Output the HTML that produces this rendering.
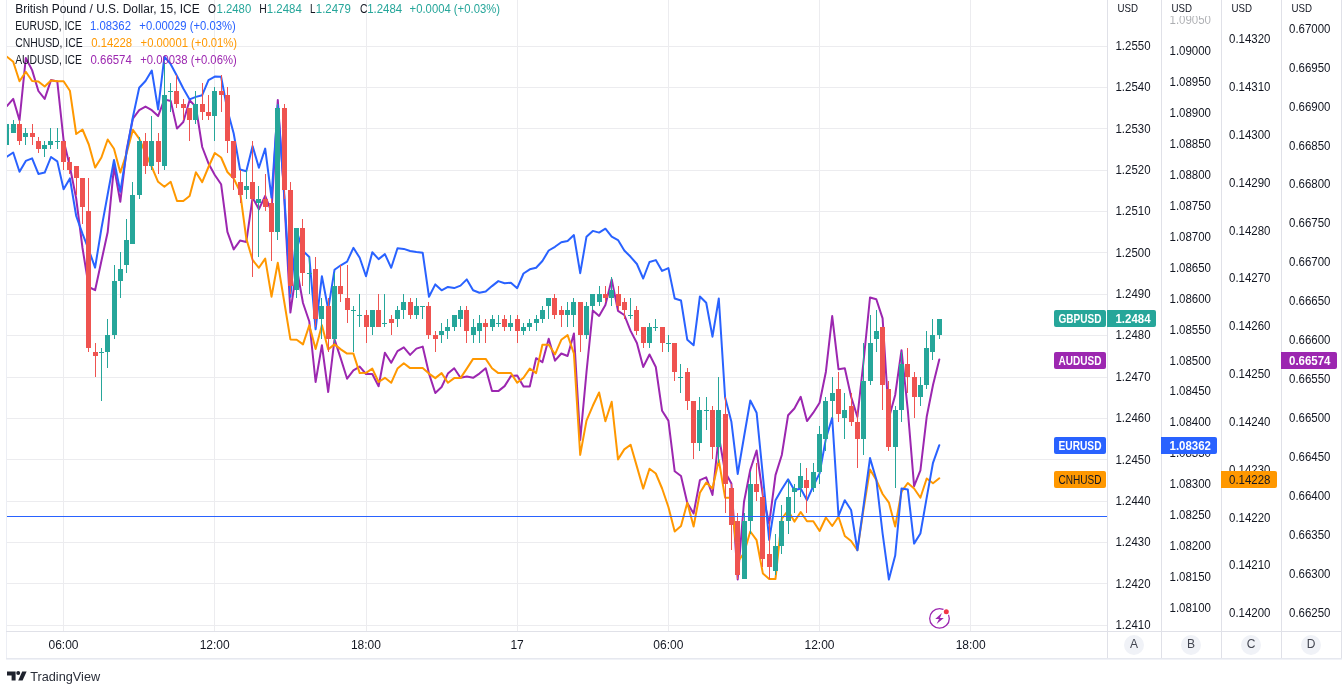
<!DOCTYPE html><html><head><meta charset="utf-8"><title>GBPUSD chart</title><style>html,body{margin:0;padding:0;background:#fff;}body{width:1342px;height:688px;overflow:hidden;font-family:"Liberation Sans",sans-serif;}</style></head><body><div style="will-change:transform;width:1342px;height:688px"><svg width="1342" height="688" viewBox="0 0 1342 688" style="display:block">
<g stroke="#ececef" stroke-width="1" shape-rendering="crispEdges">
<line x1="7" y1="46.5" x2="1107" y2="46.5"/>
<line x1="7" y1="87.5" x2="1107" y2="87.5"/>
<line x1="7" y1="128.5" x2="1107" y2="128.5"/>
<line x1="7" y1="170.5" x2="1107" y2="170.5"/>
<line x1="7" y1="211.5" x2="1107" y2="211.5"/>
<line x1="7" y1="252.5" x2="1107" y2="252.5"/>
<line x1="7" y1="294.5" x2="1107" y2="294.5"/>
<line x1="7" y1="335.5" x2="1107" y2="335.5"/>
<line x1="7" y1="377.5" x2="1107" y2="377.5"/>
<line x1="7" y1="418.5" x2="1107" y2="418.5"/>
<line x1="7" y1="459.5" x2="1107" y2="459.5"/>
<line x1="7" y1="501.5" x2="1107" y2="501.5"/>
<line x1="7" y1="542.5" x2="1107" y2="542.5"/>
<line x1="7" y1="583.5" x2="1107" y2="583.5"/>
<line x1="7" y1="625.5" x2="1107" y2="625.5"/>
<line x1="63.5" y1="0" x2="63.5" y2="631"/>
<line x1="214.5" y1="0" x2="214.5" y2="631"/>
<line x1="366.5" y1="0" x2="366.5" y2="631"/>
<line x1="517.5" y1="0" x2="517.5" y2="631"/>
<line x1="668.5" y1="0" x2="668.5" y2="631"/>
<line x1="819.5" y1="0" x2="819.5" y2="631"/>
<line x1="970.5" y1="0" x2="970.5" y2="631"/>
</g>
<clipPath id="cp"><rect x="7" y="0" width="1100" height="631"/></clipPath>
<g clip-path="url(#cp)">
<polyline points="6.9,106.0 13.2,98.9 19.5,120.3 25.8,58.0 32.1,70.1 38.4,91.0 44.7,98.9 51.0,80.1 57.3,81.5 63.6,140.3 69.9,166.7 76.2,198.5 82.5,248.0 88.8,287.0 95.1,290.2 101.4,261.0 107.7,232.0 114.0,166.7 120.3,201.8 126.6,150.0 132.9,118.6 139.2,110.2 145.5,106.6 151.8,110.2 158.1,116.1 164.4,99.4 170.7,101.0 177.0,128.6 183.3,122.0 189.6,100.2 195.9,106.9 202.2,147.0 208.5,163.4 214.8,175.0 221.1,184.2 227.4,231.9 233.7,249.4 240.0,240.6 246.3,241.9 252.6,197.6 258.9,209.3 265.2,195.9 271.5,212.0 277.8,100.1 284.1,195.0 290.4,312.6 296.7,268.0 303.0,303.0 309.3,321.5 315.6,382.0 321.9,345.2 328.2,392.0 334.5,339.4 340.8,358.6 347.1,378.7 353.4,370.3 359.7,366.6 366.0,374.0 372.3,374.0 378.6,386.2 384.9,352.7 391.2,362.8 397.5,351.1 403.8,347.4 410.1,354.9 416.4,348.6 422.7,346.6 429.0,373.6 435.3,393.0 441.6,387.0 447.9,373.6 454.2,368.2 460.5,377.8 466.8,376.4 473.1,377.8 479.4,373.6 485.7,368.2 492.0,391.1 498.3,391.1 504.6,386.1 510.9,376.1 517.2,375.6 523.5,386.5 529.8,386.5 536.1,358.2 542.4,362.2 548.7,338.8 555.0,360.7 561.3,353.5 567.6,356.0 573.9,333.4 580.2,440.0 586.5,372.0 592.8,310.4 599.1,315.9 605.4,305.0 611.7,279.4 618.0,310.9 624.3,315.0 630.6,330.9 636.9,343.0 643.2,367.0 649.5,354.5 655.8,367.0 662.1,410.8 668.4,420.6 674.7,471.3 681.0,476.0 687.3,503.0 693.6,513.5 699.9,480.2 706.2,477.4 712.5,495.0 718.8,436.0 725.1,472.0 731.4,483.5 737.7,579.4 744.0,502.0 750.3,469.8 756.6,450.5 762.9,496.0 769.2,523.6 775.5,475.1 781.8,455.0 788.1,415.2 794.4,408.5 800.7,396.8 807.0,421.1 813.3,412.7 819.6,402.7 825.9,371.7 832.2,316.1 838.5,369.2 844.8,368.3 851.1,396.8 857.4,416.9 863.7,360.0 870.0,297.5 876.3,299.2 882.6,318.4 888.9,418.0 895.2,395.0 901.5,350.2 907.8,410.0 914.1,486.2 920.4,470.3 926.7,416.8 933.0,385.0 939.3,359.4" fill="none" stroke="#9c27b0" stroke-width="2" stroke-linejoin="round" stroke-linecap="round"/>
<polyline points="6.9,56.7 13.2,61.7 19.5,81.3 25.8,71.8 32.1,81.0 38.4,81.5 44.7,86.5 51.0,80.6 57.3,81.3 63.6,81.3 69.9,90.7 76.2,134.0 82.5,129.5 88.8,144.5 95.1,167.6 101.4,157.5 107.7,139.5 114.0,148.7 120.3,172.6 126.6,153.3 132.9,129.8 139.2,138.7 145.5,153.0 151.8,167.0 158.1,181.8 164.4,186.8 170.7,181.8 177.0,201.0 183.3,201.0 189.6,196.0 195.9,172.2 202.2,182.1 208.5,167.0 214.8,153.0 221.1,157.5 227.4,172.0 233.7,178.5 240.0,191.5 246.3,238.6 252.6,260.0 258.9,267.8 265.2,258.6 271.5,296.7 277.8,262.8 284.1,301.0 290.4,339.4 296.7,339.7 303.0,344.4 309.3,325.2 315.6,349.1 321.9,325.2 328.2,349.4 334.5,344.4 340.8,349.4 347.1,353.6 353.4,353.6 359.7,373.1 366.0,372.8 372.3,368.6 378.6,382.0 384.9,377.8 391.2,382.8 397.5,368.6 403.8,363.3 410.1,368.1 416.4,368.1 422.7,368.1 429.0,373.6 435.3,378.1 441.6,373.1 447.9,382.8 454.2,378.1 460.5,378.1 466.8,368.6 473.1,358.9 479.4,358.9 485.7,358.9 492.0,368.2 498.3,373.1 504.6,373.1 510.9,373.1 517.2,382.8 523.5,377.8 529.8,368.6 536.1,373.1 542.4,344.8 548.7,344.8 555.0,354.3 561.3,339.8 567.6,335.1 573.9,353.5 580.2,454.9 586.5,420.6 592.8,405.8 599.1,392.5 605.4,421.2 611.7,401.8 618.0,459.4 624.3,449.4 630.6,444.7 636.9,466.6 643.2,488.6 649.5,468.7 655.8,473.5 662.1,488.5 668.4,507.0 674.7,531.5 681.0,526.1 687.3,502.7 693.6,526.5 699.9,492.7 706.2,482.6 712.5,488.5 718.8,460.1 725.1,497.7 731.4,497.7 737.7,562.0 744.0,553.0 750.3,531.5 756.6,540.2 762.9,573.6 769.2,578.9 775.5,578.9 781.8,518.6 788.1,510.5 794.4,521.6 800.7,512.0 807.0,521.3 813.3,521.3 819.6,531.0 825.9,517.5 832.2,526.0 838.5,516.8 844.8,536.0 851.1,541.0 857.4,550.2 863.7,508.0 870.0,469.4 876.3,480.0 882.6,494.0 888.9,502.6 895.2,526.5 901.5,491.7 907.8,483.0 914.1,488.5 920.4,497.7 926.7,478.5 933.0,483.2 939.3,478.3" fill="none" stroke="#ff9800" stroke-width="2" stroke-linejoin="round" stroke-linecap="round"/>
<polyline points="6.9,156.7 13.2,152.5 19.5,171.7 25.8,160.9 32.1,158.4 38.4,173.9 44.7,172.6 51.0,157.0 57.3,161.4 63.6,189.3 69.9,178.4 76.2,216.0 82.5,233.6 88.8,250.0 95.1,267.6 101.4,228.6 107.7,194.3 114.0,160.0 120.3,191.8 126.6,152.0 132.9,117.0 139.2,87.7 145.5,81.0 151.8,70.6 158.1,109.4 164.4,56.7 170.7,64.2 177.0,76.0 183.3,88.5 189.6,99.4 195.9,96.9 202.2,95.2 208.5,80.1 214.8,76.6 221.1,76.7 227.4,110.0 233.7,133.5 240.0,169.5 246.3,171.2 252.6,146.1 258.9,167.8 265.2,148.6 271.5,197.6 277.8,105.0 284.1,191.7 290.4,296.7 296.7,231.0 303.0,251.0 309.3,257.0 315.6,329.3 321.9,276.2 328.2,309.3 334.5,269.8 340.8,265.3 347.1,261.6 353.4,247.8 359.7,257.8 366.0,276.2 372.3,252.3 378.6,259.1 384.9,254.1 391.2,267.8 397.5,248.3 403.8,248.9 410.1,251.0 416.4,252.0 422.7,252.8 429.0,296.8 435.3,284.4 441.6,290.3 447.9,286.9 454.2,288.1 460.5,285.6 466.8,279.4 473.1,290.3 479.4,292.8 485.7,291.6 492.0,286.1 498.3,281.1 504.6,283.2 510.9,282.7 517.2,288.2 523.5,273.5 529.8,269.3 536.1,267.7 542.4,261.0 548.7,250.5 555.0,246.8 561.3,242.3 567.6,240.9 573.9,235.1 580.2,273.2 586.5,236.7 592.8,230.9 599.1,232.6 605.4,228.7 611.7,236.7 618.0,240.1 624.3,250.5 630.6,256.8 636.9,264.0 643.2,278.5 649.5,262.0 655.8,260.1 662.1,270.9 668.4,268.1 674.7,298.5 681.0,300.5 687.3,339.8 693.6,345.3 699.9,296.5 706.2,302.7 712.5,336.7 718.8,298.5 725.1,397.5 731.4,421.8 737.7,474.0 744.0,437.0 750.3,400.5 756.6,412.7 762.9,476.0 769.2,540.0 775.5,500.2 781.8,489.3 788.1,479.3 794.4,490.2 800.7,488.5 807.0,500.2 813.3,486.0 819.6,473.4 825.9,438.6 832.2,417.7 838.5,516.0 844.8,500.2 851.1,510.0 857.4,550.3 863.7,505.0 870.0,458.1 876.3,479.5 882.6,533.5 888.9,579.5 895.2,555.6 901.5,488.5 907.8,489.6 914.1,543.6 920.4,533.5 926.7,497.6 933.0,462.8 939.3,445.2" fill="none" stroke="#2962ff" stroke-width="2" stroke-linejoin="round" stroke-linecap="round"/>
<rect x="6" y="124" width="1" height="21" fill="#26a69a"/>
<rect x="4" y="124" width="5" height="21" fill="#26a69a"/>
<rect x="13" y="120" width="1" height="13" fill="#26a69a"/>
<rect x="11" y="124" width="5" height="9" fill="#26a69a"/>
<rect x="19" y="120" width="1" height="25" fill="#ef5350"/>
<rect x="17" y="124" width="5" height="17" fill="#ef5350"/>
<rect x="25" y="128" width="1" height="17" fill="#26a69a"/>
<rect x="23" y="133" width="5" height="4" fill="#26a69a"/>
<rect x="32" y="124" width="1" height="21" fill="#ef5350"/>
<rect x="30" y="133" width="5" height="4" fill="#ef5350"/>
<rect x="38" y="137" width="1" height="16" fill="#ef5350"/>
<rect x="36" y="141" width="5" height="8" fill="#ef5350"/>
<rect x="44" y="141" width="1" height="16" fill="#26a69a"/>
<rect x="42" y="145" width="5" height="4" fill="#26a69a"/>
<rect x="50" y="128" width="1" height="21" fill="#26a69a"/>
<rect x="48" y="141" width="5" height="4" fill="#26a69a"/>
<rect x="57" y="128" width="1" height="21" fill="#26a69a"/>
<rect x="55" y="141" width="5" height="1" fill="#26a69a"/>
<rect x="63" y="141" width="1" height="29" fill="#ef5350"/>
<rect x="61" y="141" width="5" height="21" fill="#ef5350"/>
<rect x="69" y="157" width="1" height="17" fill="#ef5350"/>
<rect x="67" y="162" width="5" height="8" fill="#ef5350"/>
<rect x="76" y="166" width="1" height="29" fill="#ef5350"/>
<rect x="74" y="166" width="5" height="12" fill="#ef5350"/>
<rect x="82" y="178" width="1" height="46" fill="#ef5350"/>
<rect x="80" y="178" width="5" height="29" fill="#ef5350"/>
<rect x="88" y="178" width="1" height="174" fill="#ef5350"/>
<rect x="86" y="211" width="5" height="137" fill="#ef5350"/>
<rect x="95" y="343" width="1" height="34" fill="#ef5350"/>
<rect x="93" y="352" width="5" height="4" fill="#ef5350"/>
<rect x="101" y="348" width="1" height="53" fill="#26a69a"/>
<rect x="99" y="352" width="5" height="1" fill="#26a69a"/>
<rect x="107" y="319" width="1" height="49" fill="#26a69a"/>
<rect x="105" y="335" width="5" height="17" fill="#26a69a"/>
<rect x="114" y="265" width="1" height="74" fill="#26a69a"/>
<rect x="112" y="281" width="5" height="54" fill="#26a69a"/>
<rect x="120" y="252" width="1" height="46" fill="#26a69a"/>
<rect x="118" y="269" width="5" height="12" fill="#26a69a"/>
<rect x="126" y="219" width="1" height="54" fill="#26a69a"/>
<rect x="124" y="240" width="5" height="25" fill="#26a69a"/>
<rect x="132" y="182" width="1" height="62" fill="#26a69a"/>
<rect x="130" y="195" width="5" height="49" fill="#26a69a"/>
<rect x="139" y="137" width="1" height="62" fill="#26a69a"/>
<rect x="137" y="141" width="5" height="54" fill="#26a69a"/>
<rect x="145" y="133" width="1" height="41" fill="#ef5350"/>
<rect x="143" y="141" width="5" height="25" fill="#ef5350"/>
<rect x="151" y="116" width="1" height="54" fill="#26a69a"/>
<rect x="149" y="141" width="5" height="25" fill="#26a69a"/>
<rect x="158" y="133" width="1" height="41" fill="#ef5350"/>
<rect x="156" y="141" width="5" height="21" fill="#ef5350"/>
<rect x="164" y="62" width="1" height="108" fill="#26a69a"/>
<rect x="162" y="95" width="5" height="71" fill="#26a69a"/>
<rect x="170" y="83" width="1" height="29" fill="#26a69a"/>
<rect x="168" y="91" width="5" height="1" fill="#26a69a"/>
<rect x="176" y="75" width="1" height="33" fill="#ef5350"/>
<rect x="174" y="91" width="5" height="13" fill="#ef5350"/>
<rect x="183" y="99" width="1" height="21" fill="#ef5350"/>
<rect x="181" y="104" width="5" height="4" fill="#ef5350"/>
<rect x="189" y="108" width="1" height="33" fill="#ef5350"/>
<rect x="187" y="108" width="5" height="12" fill="#ef5350"/>
<rect x="195" y="91" width="1" height="33" fill="#26a69a"/>
<rect x="193" y="104" width="5" height="16" fill="#26a69a"/>
<rect x="202" y="83" width="1" height="37" fill="#ef5350"/>
<rect x="200" y="104" width="5" height="8" fill="#ef5350"/>
<rect x="208" y="95" width="1" height="25" fill="#ef5350"/>
<rect x="206" y="112" width="5" height="4" fill="#ef5350"/>
<rect x="214" y="87" width="1" height="54" fill="#26a69a"/>
<rect x="212" y="91" width="5" height="25" fill="#26a69a"/>
<rect x="221" y="75" width="1" height="37" fill="#ef5350"/>
<rect x="219" y="91" width="5" height="4" fill="#ef5350"/>
<rect x="227" y="87" width="1" height="66" fill="#ef5350"/>
<rect x="225" y="95" width="5" height="46" fill="#ef5350"/>
<rect x="233" y="141" width="1" height="49" fill="#ef5350"/>
<rect x="231" y="141" width="5" height="37" fill="#ef5350"/>
<rect x="240" y="170" width="1" height="33" fill="#ef5350"/>
<rect x="238" y="182" width="5" height="13" fill="#ef5350"/>
<rect x="246" y="170" width="1" height="29" fill="#26a69a"/>
<rect x="244" y="186" width="5" height="4" fill="#26a69a"/>
<rect x="252" y="141" width="1" height="136" fill="#ef5350"/>
<rect x="250" y="182" width="5" height="17" fill="#ef5350"/>
<rect x="258" y="186" width="1" height="71" fill="#26a69a"/>
<rect x="256" y="199" width="5" height="4" fill="#26a69a"/>
<rect x="265" y="174" width="1" height="37" fill="#ef5350"/>
<rect x="263" y="199" width="5" height="8" fill="#ef5350"/>
<rect x="271" y="199" width="1" height="62" fill="#ef5350"/>
<rect x="269" y="203" width="5" height="29" fill="#ef5350"/>
<rect x="277" y="104" width="1" height="136" fill="#26a69a"/>
<rect x="275" y="108" width="5" height="124" fill="#26a69a"/>
<rect x="284" y="104" width="1" height="95" fill="#ef5350"/>
<rect x="282" y="108" width="5" height="82" fill="#ef5350"/>
<rect x="290" y="182" width="1" height="112" fill="#ef5350"/>
<rect x="288" y="190" width="5" height="96" fill="#ef5350"/>
<rect x="296" y="228" width="1" height="70" fill="#26a69a"/>
<rect x="294" y="228" width="5" height="62" fill="#26a69a"/>
<rect x="302" y="219" width="1" height="67" fill="#ef5350"/>
<rect x="300" y="228" width="5" height="45" fill="#ef5350"/>
<rect x="309" y="257" width="1" height="37" fill="#26a69a"/>
<rect x="307" y="273" width="5" height="1" fill="#26a69a"/>
<rect x="315" y="257" width="1" height="70" fill="#ef5350"/>
<rect x="313" y="269" width="5" height="50" fill="#ef5350"/>
<rect x="321" y="298" width="1" height="41" fill="#26a69a"/>
<rect x="319" y="306" width="5" height="13" fill="#26a69a"/>
<rect x="328" y="298" width="1" height="54" fill="#ef5350"/>
<rect x="326" y="306" width="5" height="33" fill="#ef5350"/>
<rect x="334" y="273" width="1" height="70" fill="#26a69a"/>
<rect x="332" y="286" width="5" height="53" fill="#26a69a"/>
<rect x="340" y="265" width="1" height="37" fill="#ef5350"/>
<rect x="338" y="286" width="5" height="8" fill="#ef5350"/>
<rect x="347" y="265" width="1" height="58" fill="#ef5350"/>
<rect x="345" y="298" width="5" height="12" fill="#ef5350"/>
<rect x="353" y="306" width="1" height="46" fill="#26a69a"/>
<rect x="351" y="310" width="5" height="1" fill="#26a69a"/>
<rect x="359" y="294" width="1" height="33" fill="#26a69a"/>
<rect x="357" y="315" width="5" height="1" fill="#26a69a"/>
<rect x="366" y="310" width="1" height="33" fill="#ef5350"/>
<rect x="364" y="315" width="5" height="12" fill="#ef5350"/>
<rect x="372" y="310" width="1" height="25" fill="#26a69a"/>
<rect x="370" y="310" width="5" height="17" fill="#26a69a"/>
<rect x="378" y="294" width="1" height="33" fill="#ef5350"/>
<rect x="376" y="310" width="5" height="17" fill="#ef5350"/>
<rect x="384" y="294" width="1" height="33" fill="#26a69a"/>
<rect x="382" y="323" width="5" height="1" fill="#26a69a"/>
<rect x="391" y="315" width="1" height="20" fill="#ef5350"/>
<rect x="389" y="319" width="5" height="4" fill="#ef5350"/>
<rect x="397" y="306" width="1" height="21" fill="#26a69a"/>
<rect x="395" y="310" width="5" height="9" fill="#26a69a"/>
<rect x="403" y="294" width="1" height="25" fill="#26a69a"/>
<rect x="401" y="302" width="5" height="8" fill="#26a69a"/>
<rect x="410" y="298" width="1" height="21" fill="#ef5350"/>
<rect x="408" y="302" width="5" height="13" fill="#ef5350"/>
<rect x="416" y="298" width="1" height="21" fill="#26a69a"/>
<rect x="414" y="306" width="5" height="9" fill="#26a69a"/>
<rect x="422" y="306" width="1" height="13" fill="#26a69a"/>
<rect x="420" y="306" width="5" height="1" fill="#26a69a"/>
<rect x="428" y="302" width="1" height="37" fill="#ef5350"/>
<rect x="426" y="306" width="5" height="29" fill="#ef5350"/>
<rect x="435" y="331" width="1" height="21" fill="#ef5350"/>
<rect x="433" y="335" width="5" height="4" fill="#ef5350"/>
<rect x="441" y="323" width="1" height="20" fill="#26a69a"/>
<rect x="439" y="331" width="5" height="4" fill="#26a69a"/>
<rect x="447" y="319" width="1" height="20" fill="#26a69a"/>
<rect x="445" y="327" width="5" height="4" fill="#26a69a"/>
<rect x="454" y="315" width="1" height="16" fill="#26a69a"/>
<rect x="452" y="315" width="5" height="12" fill="#26a69a"/>
<rect x="460" y="306" width="1" height="21" fill="#26a69a"/>
<rect x="458" y="310" width="5" height="9" fill="#26a69a"/>
<rect x="466" y="306" width="1" height="37" fill="#ef5350"/>
<rect x="464" y="310" width="5" height="21" fill="#ef5350"/>
<rect x="473" y="319" width="1" height="24" fill="#26a69a"/>
<rect x="471" y="327" width="5" height="8" fill="#26a69a"/>
<rect x="479" y="315" width="1" height="28" fill="#26a69a"/>
<rect x="477" y="323" width="5" height="8" fill="#26a69a"/>
<rect x="485" y="319" width="1" height="24" fill="#ef5350"/>
<rect x="483" y="323" width="5" height="4" fill="#ef5350"/>
<rect x="492" y="315" width="1" height="16" fill="#26a69a"/>
<rect x="490" y="319" width="5" height="8" fill="#26a69a"/>
<rect x="498" y="315" width="1" height="12" fill="#26a69a"/>
<rect x="496" y="323" width="5" height="1" fill="#26a69a"/>
<rect x="504" y="315" width="1" height="16" fill="#ef5350"/>
<rect x="502" y="319" width="5" height="8" fill="#ef5350"/>
<rect x="510" y="315" width="1" height="16" fill="#26a69a"/>
<rect x="508" y="323" width="5" height="4" fill="#26a69a"/>
<rect x="517" y="315" width="1" height="28" fill="#ef5350"/>
<rect x="515" y="319" width="5" height="12" fill="#ef5350"/>
<rect x="523" y="323" width="1" height="12" fill="#26a69a"/>
<rect x="521" y="327" width="5" height="4" fill="#26a69a"/>
<rect x="529" y="319" width="1" height="12" fill="#26a69a"/>
<rect x="527" y="323" width="5" height="4" fill="#26a69a"/>
<rect x="536" y="315" width="1" height="16" fill="#26a69a"/>
<rect x="534" y="319" width="5" height="4" fill="#26a69a"/>
<rect x="542" y="306" width="1" height="17" fill="#26a69a"/>
<rect x="540" y="310" width="5" height="9" fill="#26a69a"/>
<rect x="548" y="298" width="1" height="21" fill="#26a69a"/>
<rect x="546" y="298" width="5" height="8" fill="#26a69a"/>
<rect x="554" y="294" width="1" height="25" fill="#ef5350"/>
<rect x="552" y="298" width="5" height="17" fill="#ef5350"/>
<rect x="561" y="306" width="1" height="21" fill="#ef5350"/>
<rect x="559" y="310" width="5" height="5" fill="#ef5350"/>
<rect x="567" y="302" width="1" height="25" fill="#26a69a"/>
<rect x="565" y="310" width="5" height="5" fill="#26a69a"/>
<rect x="573" y="298" width="1" height="29" fill="#26a69a"/>
<rect x="571" y="302" width="5" height="13" fill="#26a69a"/>
<rect x="580" y="302" width="1" height="50" fill="#ef5350"/>
<rect x="578" y="302" width="5" height="33" fill="#ef5350"/>
<rect x="586" y="302" width="1" height="37" fill="#26a69a"/>
<rect x="584" y="306" width="5" height="29" fill="#26a69a"/>
<rect x="592" y="294" width="1" height="16" fill="#26a69a"/>
<rect x="590" y="294" width="5" height="12" fill="#26a69a"/>
<rect x="599" y="286" width="1" height="20" fill="#26a69a"/>
<rect x="597" y="294" width="5" height="8" fill="#26a69a"/>
<rect x="605" y="286" width="1" height="16" fill="#ef5350"/>
<rect x="603" y="294" width="5" height="4" fill="#ef5350"/>
<rect x="611" y="277" width="1" height="29" fill="#26a69a"/>
<rect x="609" y="290" width="5" height="8" fill="#26a69a"/>
<rect x="618" y="286" width="1" height="24" fill="#ef5350"/>
<rect x="616" y="294" width="5" height="12" fill="#ef5350"/>
<rect x="624" y="298" width="1" height="21" fill="#ef5350"/>
<rect x="622" y="302" width="5" height="8" fill="#ef5350"/>
<rect x="630" y="298" width="1" height="21" fill="#26a69a"/>
<rect x="628" y="315" width="5" height="1" fill="#26a69a"/>
<rect x="636" y="306" width="1" height="29" fill="#ef5350"/>
<rect x="634" y="310" width="5" height="21" fill="#ef5350"/>
<rect x="643" y="327" width="1" height="21" fill="#ef5350"/>
<rect x="641" y="327" width="5" height="16" fill="#ef5350"/>
<rect x="649" y="323" width="1" height="25" fill="#26a69a"/>
<rect x="647" y="327" width="5" height="16" fill="#26a69a"/>
<rect x="655" y="319" width="1" height="12" fill="#26a69a"/>
<rect x="653" y="327" width="5" height="1" fill="#26a69a"/>
<rect x="662" y="327" width="1" height="25" fill="#ef5350"/>
<rect x="660" y="327" width="5" height="16" fill="#ef5350"/>
<rect x="668" y="335" width="1" height="17" fill="#26a69a"/>
<rect x="666" y="343" width="5" height="1" fill="#26a69a"/>
<rect x="674" y="343" width="1" height="38" fill="#ef5350"/>
<rect x="672" y="343" width="5" height="29" fill="#ef5350"/>
<rect x="680" y="364" width="1" height="29" fill="#26a69a"/>
<rect x="678" y="377" width="5" height="1" fill="#26a69a"/>
<rect x="687" y="368" width="1" height="42" fill="#ef5350"/>
<rect x="685" y="372" width="5" height="29" fill="#ef5350"/>
<rect x="693" y="401" width="1" height="58" fill="#ef5350"/>
<rect x="691" y="401" width="5" height="42" fill="#ef5350"/>
<rect x="699" y="397" width="1" height="54" fill="#26a69a"/>
<rect x="697" y="410" width="5" height="33" fill="#26a69a"/>
<rect x="706" y="397" width="1" height="33" fill="#26a69a"/>
<rect x="704" y="410" width="5" height="1" fill="#26a69a"/>
<rect x="712" y="406" width="1" height="53" fill="#ef5350"/>
<rect x="710" y="410" width="5" height="37" fill="#ef5350"/>
<rect x="718" y="377" width="1" height="86" fill="#26a69a"/>
<rect x="716" y="410" width="5" height="37" fill="#26a69a"/>
<rect x="725" y="397" width="1" height="116" fill="#ef5350"/>
<rect x="723" y="414" width="5" height="70" fill="#ef5350"/>
<rect x="731" y="484" width="1" height="66" fill="#ef5350"/>
<rect x="729" y="488" width="5" height="37" fill="#ef5350"/>
<rect x="737" y="513" width="1" height="66" fill="#ef5350"/>
<rect x="735" y="521" width="5" height="54" fill="#ef5350"/>
<rect x="744" y="513" width="1" height="66" fill="#26a69a"/>
<rect x="742" y="521" width="5" height="58" fill="#26a69a"/>
<rect x="750" y="472" width="1" height="62" fill="#26a69a"/>
<rect x="748" y="484" width="5" height="37" fill="#26a69a"/>
<rect x="756" y="463" width="1" height="38" fill="#ef5350"/>
<rect x="754" y="484" width="5" height="8" fill="#ef5350"/>
<rect x="762" y="488" width="1" height="79" fill="#ef5350"/>
<rect x="760" y="497" width="5" height="62" fill="#ef5350"/>
<rect x="769" y="521" width="1" height="58" fill="#ef5350"/>
<rect x="767" y="554" width="5" height="13" fill="#ef5350"/>
<rect x="775" y="534" width="1" height="41" fill="#26a69a"/>
<rect x="773" y="546" width="5" height="25" fill="#26a69a"/>
<rect x="781" y="505" width="1" height="49" fill="#26a69a"/>
<rect x="779" y="521" width="5" height="25" fill="#26a69a"/>
<rect x="788" y="480" width="1" height="54" fill="#26a69a"/>
<rect x="786" y="497" width="5" height="24" fill="#26a69a"/>
<rect x="794" y="484" width="1" height="29" fill="#26a69a"/>
<rect x="792" y="488" width="5" height="4" fill="#26a69a"/>
<rect x="800" y="463" width="1" height="34" fill="#26a69a"/>
<rect x="798" y="476" width="5" height="12" fill="#26a69a"/>
<rect x="806" y="468" width="1" height="45" fill="#ef5350"/>
<rect x="804" y="480" width="5" height="8" fill="#ef5350"/>
<rect x="813" y="463" width="1" height="29" fill="#26a69a"/>
<rect x="811" y="472" width="5" height="16" fill="#26a69a"/>
<rect x="819" y="426" width="1" height="58" fill="#26a69a"/>
<rect x="817" y="434" width="5" height="38" fill="#26a69a"/>
<rect x="825" y="397" width="1" height="54" fill="#26a69a"/>
<rect x="823" y="401" width="5" height="38" fill="#26a69a"/>
<rect x="832" y="377" width="1" height="41" fill="#26a69a"/>
<rect x="830" y="393" width="5" height="8" fill="#26a69a"/>
<rect x="838" y="372" width="1" height="50" fill="#ef5350"/>
<rect x="836" y="389" width="5" height="25" fill="#ef5350"/>
<rect x="844" y="393" width="1" height="46" fill="#26a69a"/>
<rect x="842" y="410" width="5" height="8" fill="#26a69a"/>
<rect x="851" y="393" width="1" height="33" fill="#ef5350"/>
<rect x="849" y="406" width="5" height="16" fill="#ef5350"/>
<rect x="857" y="410" width="1" height="58" fill="#ef5350"/>
<rect x="855" y="422" width="5" height="17" fill="#ef5350"/>
<rect x="863" y="343" width="1" height="112" fill="#26a69a"/>
<rect x="861" y="381" width="5" height="58" fill="#26a69a"/>
<rect x="870" y="315" width="1" height="70" fill="#26a69a"/>
<rect x="868" y="343" width="5" height="38" fill="#26a69a"/>
<rect x="876" y="310" width="1" height="42" fill="#26a69a"/>
<rect x="874" y="331" width="5" height="8" fill="#26a69a"/>
<rect x="882" y="327" width="1" height="83" fill="#ef5350"/>
<rect x="880" y="327" width="5" height="58" fill="#ef5350"/>
<rect x="888" y="381" width="1" height="70" fill="#ef5350"/>
<rect x="886" y="389" width="5" height="58" fill="#ef5350"/>
<rect x="895" y="406" width="1" height="82" fill="#26a69a"/>
<rect x="893" y="410" width="5" height="37" fill="#26a69a"/>
<rect x="901" y="352" width="1" height="70" fill="#26a69a"/>
<rect x="899" y="364" width="5" height="46" fill="#26a69a"/>
<rect x="907" y="348" width="1" height="45" fill="#ef5350"/>
<rect x="905" y="364" width="5" height="13" fill="#ef5350"/>
<rect x="914" y="372" width="1" height="46" fill="#ef5350"/>
<rect x="912" y="377" width="5" height="20" fill="#ef5350"/>
<rect x="920" y="377" width="1" height="29" fill="#26a69a"/>
<rect x="918" y="385" width="5" height="12" fill="#26a69a"/>
<rect x="926" y="331" width="1" height="58" fill="#26a69a"/>
<rect x="924" y="348" width="5" height="37" fill="#26a69a"/>
<rect x="932" y="319" width="1" height="41" fill="#26a69a"/>
<rect x="930" y="335" width="5" height="17" fill="#26a69a"/>
<rect x="939" y="319" width="1" height="20" fill="#26a69a"/>
<rect x="937" y="319" width="5" height="16" fill="#26a69a"/>
</g>
<line x1="7" y1="516.5" x2="1107" y2="516.5" stroke="#2962ff" stroke-width="1" shape-rendering="crispEdges"/>
<g stroke="#e0e1e8" stroke-width="1" shape-rendering="crispEdges">
<line x1="6.5" y1="0" x2="6.5" y2="659" stroke="#eceef4"/>
<line x1="1107.5" y1="0" x2="1107.5" y2="659"/>
<line x1="1161.5" y1="0" x2="1161.5" y2="659"/>
<line x1="1221.5" y1="0" x2="1221.5" y2="659"/>
<line x1="1281.5" y1="0" x2="1281.5" y2="659"/>
<line x1="1341.5" y1="0" x2="1341.5" y2="659"/>
<line x1="6" y1="631.5" x2="1342" y2="631.5"/>
<line x1="6" y1="658.5" x2="1342" y2="658.5" stroke="#e6e8ef"/>
<line x1="6" y1="659.5" x2="1342" y2="659.5" stroke="#f0f2f7"/>
</g>
<text x="1115.5" y="49.7" font-family="Liberation Sans, sans-serif" font-size="12" fill="#131722" text-anchor="start" font-weight="normal" textLength="35" lengthAdjust="spacingAndGlyphs">1.2550</text>
<text x="1115.5" y="91.1" font-family="Liberation Sans, sans-serif" font-size="12" fill="#131722" text-anchor="start" font-weight="normal" textLength="35" lengthAdjust="spacingAndGlyphs">1.2540</text>
<text x="1115.5" y="132.5" font-family="Liberation Sans, sans-serif" font-size="12" fill="#131722" text-anchor="start" font-weight="normal" textLength="35" lengthAdjust="spacingAndGlyphs">1.2530</text>
<text x="1115.5" y="173.8" font-family="Liberation Sans, sans-serif" font-size="12" fill="#131722" text-anchor="start" font-weight="normal" textLength="35" lengthAdjust="spacingAndGlyphs">1.2520</text>
<text x="1115.5" y="215.2" font-family="Liberation Sans, sans-serif" font-size="12" fill="#131722" text-anchor="start" font-weight="normal" textLength="35" lengthAdjust="spacingAndGlyphs">1.2510</text>
<text x="1115.5" y="256.6" font-family="Liberation Sans, sans-serif" font-size="12" fill="#131722" text-anchor="start" font-weight="normal" textLength="35" lengthAdjust="spacingAndGlyphs">1.2500</text>
<text x="1115.5" y="298.0" font-family="Liberation Sans, sans-serif" font-size="12" fill="#131722" text-anchor="start" font-weight="normal" textLength="35" lengthAdjust="spacingAndGlyphs">1.2490</text>
<text x="1115.5" y="339.4" font-family="Liberation Sans, sans-serif" font-size="12" fill="#131722" text-anchor="start" font-weight="normal" textLength="35" lengthAdjust="spacingAndGlyphs">1.2480</text>
<text x="1115.5" y="380.7" font-family="Liberation Sans, sans-serif" font-size="12" fill="#131722" text-anchor="start" font-weight="normal" textLength="35" lengthAdjust="spacingAndGlyphs">1.2470</text>
<text x="1115.5" y="422.1" font-family="Liberation Sans, sans-serif" font-size="12" fill="#131722" text-anchor="start" font-weight="normal" textLength="35" lengthAdjust="spacingAndGlyphs">1.2460</text>
<text x="1115.5" y="463.5" font-family="Liberation Sans, sans-serif" font-size="12" fill="#131722" text-anchor="start" font-weight="normal" textLength="35" lengthAdjust="spacingAndGlyphs">1.2450</text>
<text x="1115.5" y="504.9" font-family="Liberation Sans, sans-serif" font-size="12" fill="#131722" text-anchor="start" font-weight="normal" textLength="35" lengthAdjust="spacingAndGlyphs">1.2440</text>
<text x="1115.5" y="546.3" font-family="Liberation Sans, sans-serif" font-size="12" fill="#131722" text-anchor="start" font-weight="normal" textLength="35" lengthAdjust="spacingAndGlyphs">1.2430</text>
<text x="1115.5" y="587.6" font-family="Liberation Sans, sans-serif" font-size="12" fill="#131722" text-anchor="start" font-weight="normal" textLength="35" lengthAdjust="spacingAndGlyphs">1.2420</text>
<text x="1115.5" y="629.0" font-family="Liberation Sans, sans-serif" font-size="12" fill="#131722" text-anchor="start" font-weight="normal" textLength="35" lengthAdjust="spacingAndGlyphs">1.2410</text>
<text x="1169.5" y="55.2" font-family="Liberation Sans, sans-serif" font-size="12" fill="#131722" text-anchor="start" font-weight="normal" textLength="41.5" lengthAdjust="spacingAndGlyphs">1.09000</text>
<text x="1169.5" y="86.1" font-family="Liberation Sans, sans-serif" font-size="12" fill="#131722" text-anchor="start" font-weight="normal" textLength="41.5" lengthAdjust="spacingAndGlyphs">1.08950</text>
<text x="1169.5" y="117.1" font-family="Liberation Sans, sans-serif" font-size="12" fill="#131722" text-anchor="start" font-weight="normal" textLength="41.5" lengthAdjust="spacingAndGlyphs">1.08900</text>
<text x="1169.5" y="148.0" font-family="Liberation Sans, sans-serif" font-size="12" fill="#131722" text-anchor="start" font-weight="normal" textLength="41.5" lengthAdjust="spacingAndGlyphs">1.08850</text>
<text x="1169.5" y="178.9" font-family="Liberation Sans, sans-serif" font-size="12" fill="#131722" text-anchor="start" font-weight="normal" textLength="41.5" lengthAdjust="spacingAndGlyphs">1.08800</text>
<text x="1169.5" y="209.9" font-family="Liberation Sans, sans-serif" font-size="12" fill="#131722" text-anchor="start" font-weight="normal" textLength="41.5" lengthAdjust="spacingAndGlyphs">1.08750</text>
<text x="1169.5" y="240.8" font-family="Liberation Sans, sans-serif" font-size="12" fill="#131722" text-anchor="start" font-weight="normal" textLength="41.5" lengthAdjust="spacingAndGlyphs">1.08700</text>
<text x="1169.5" y="271.7" font-family="Liberation Sans, sans-serif" font-size="12" fill="#131722" text-anchor="start" font-weight="normal" textLength="41.5" lengthAdjust="spacingAndGlyphs">1.08650</text>
<text x="1169.5" y="302.6" font-family="Liberation Sans, sans-serif" font-size="12" fill="#131722" text-anchor="start" font-weight="normal" textLength="41.5" lengthAdjust="spacingAndGlyphs">1.08600</text>
<text x="1169.5" y="333.6" font-family="Liberation Sans, sans-serif" font-size="12" fill="#131722" text-anchor="start" font-weight="normal" textLength="41.5" lengthAdjust="spacingAndGlyphs">1.08550</text>
<text x="1169.5" y="364.5" font-family="Liberation Sans, sans-serif" font-size="12" fill="#131722" text-anchor="start" font-weight="normal" textLength="41.5" lengthAdjust="spacingAndGlyphs">1.08500</text>
<text x="1169.5" y="395.4" font-family="Liberation Sans, sans-serif" font-size="12" fill="#131722" text-anchor="start" font-weight="normal" textLength="41.5" lengthAdjust="spacingAndGlyphs">1.08450</text>
<text x="1169.5" y="426.4" font-family="Liberation Sans, sans-serif" font-size="12" fill="#131722" text-anchor="start" font-weight="normal" textLength="41.5" lengthAdjust="spacingAndGlyphs">1.08400</text>
<text x="1169.5" y="457.3" font-family="Liberation Sans, sans-serif" font-size="12" fill="#131722" text-anchor="start" font-weight="normal" textLength="41.5" lengthAdjust="spacingAndGlyphs">1.08350</text>
<text x="1169.5" y="488.2" font-family="Liberation Sans, sans-serif" font-size="12" fill="#131722" text-anchor="start" font-weight="normal" textLength="41.5" lengthAdjust="spacingAndGlyphs">1.08300</text>
<text x="1169.5" y="519.1" font-family="Liberation Sans, sans-serif" font-size="12" fill="#131722" text-anchor="start" font-weight="normal" textLength="41.5" lengthAdjust="spacingAndGlyphs">1.08250</text>
<text x="1169.5" y="550.1" font-family="Liberation Sans, sans-serif" font-size="12" fill="#131722" text-anchor="start" font-weight="normal" textLength="41.5" lengthAdjust="spacingAndGlyphs">1.08200</text>
<text x="1169.5" y="581.0" font-family="Liberation Sans, sans-serif" font-size="12" fill="#131722" text-anchor="start" font-weight="normal" textLength="41.5" lengthAdjust="spacingAndGlyphs">1.08150</text>
<text x="1169.5" y="611.9" font-family="Liberation Sans, sans-serif" font-size="12" fill="#131722" text-anchor="start" font-weight="normal" textLength="41.5" lengthAdjust="spacingAndGlyphs">1.08100</text>
<text x="1229" y="43.2" font-family="Liberation Sans, sans-serif" font-size="12" fill="#131722" text-anchor="start" font-weight="normal" textLength="41.5" lengthAdjust="spacingAndGlyphs">0.14320</text>
<text x="1229" y="91.0" font-family="Liberation Sans, sans-serif" font-size="12" fill="#131722" text-anchor="start" font-weight="normal" textLength="41.5" lengthAdjust="spacingAndGlyphs">0.14310</text>
<text x="1229" y="138.9" font-family="Liberation Sans, sans-serif" font-size="12" fill="#131722" text-anchor="start" font-weight="normal" textLength="41.5" lengthAdjust="spacingAndGlyphs">0.14300</text>
<text x="1229" y="186.7" font-family="Liberation Sans, sans-serif" font-size="12" fill="#131722" text-anchor="start" font-weight="normal" textLength="41.5" lengthAdjust="spacingAndGlyphs">0.14290</text>
<text x="1229" y="234.5" font-family="Liberation Sans, sans-serif" font-size="12" fill="#131722" text-anchor="start" font-weight="normal" textLength="41.5" lengthAdjust="spacingAndGlyphs">0.14280</text>
<text x="1229" y="282.3" font-family="Liberation Sans, sans-serif" font-size="12" fill="#131722" text-anchor="start" font-weight="normal" textLength="41.5" lengthAdjust="spacingAndGlyphs">0.14270</text>
<text x="1229" y="330.2" font-family="Liberation Sans, sans-serif" font-size="12" fill="#131722" text-anchor="start" font-weight="normal" textLength="41.5" lengthAdjust="spacingAndGlyphs">0.14260</text>
<text x="1229" y="378.0" font-family="Liberation Sans, sans-serif" font-size="12" fill="#131722" text-anchor="start" font-weight="normal" textLength="41.5" lengthAdjust="spacingAndGlyphs">0.14250</text>
<text x="1229" y="425.8" font-family="Liberation Sans, sans-serif" font-size="12" fill="#131722" text-anchor="start" font-weight="normal" textLength="41.5" lengthAdjust="spacingAndGlyphs">0.14240</text>
<text x="1229" y="473.7" font-family="Liberation Sans, sans-serif" font-size="12" fill="#131722" text-anchor="start" font-weight="normal" textLength="41.5" lengthAdjust="spacingAndGlyphs">0.14230</text>
<text x="1229" y="521.5" font-family="Liberation Sans, sans-serif" font-size="12" fill="#131722" text-anchor="start" font-weight="normal" textLength="41.5" lengthAdjust="spacingAndGlyphs">0.14220</text>
<text x="1229" y="569.3" font-family="Liberation Sans, sans-serif" font-size="12" fill="#131722" text-anchor="start" font-weight="normal" textLength="41.5" lengthAdjust="spacingAndGlyphs">0.14210</text>
<text x="1229" y="617.2" font-family="Liberation Sans, sans-serif" font-size="12" fill="#131722" text-anchor="start" font-weight="normal" textLength="41.5" lengthAdjust="spacingAndGlyphs">0.14200</text>
<text x="1289" y="32.6" font-family="Liberation Sans, sans-serif" font-size="12" fill="#131722" text-anchor="start" font-weight="normal" textLength="41.5" lengthAdjust="spacingAndGlyphs">0.67000</text>
<text x="1289" y="71.5" font-family="Liberation Sans, sans-serif" font-size="12" fill="#131722" text-anchor="start" font-weight="normal" textLength="41.5" lengthAdjust="spacingAndGlyphs">0.66950</text>
<text x="1289" y="110.5" font-family="Liberation Sans, sans-serif" font-size="12" fill="#131722" text-anchor="start" font-weight="normal" textLength="41.5" lengthAdjust="spacingAndGlyphs">0.66900</text>
<text x="1289" y="149.5" font-family="Liberation Sans, sans-serif" font-size="12" fill="#131722" text-anchor="start" font-weight="normal" textLength="41.5" lengthAdjust="spacingAndGlyphs">0.66850</text>
<text x="1289" y="188.4" font-family="Liberation Sans, sans-serif" font-size="12" fill="#131722" text-anchor="start" font-weight="normal" textLength="41.5" lengthAdjust="spacingAndGlyphs">0.66800</text>
<text x="1289" y="227.4" font-family="Liberation Sans, sans-serif" font-size="12" fill="#131722" text-anchor="start" font-weight="normal" textLength="41.5" lengthAdjust="spacingAndGlyphs">0.66750</text>
<text x="1289" y="266.3" font-family="Liberation Sans, sans-serif" font-size="12" fill="#131722" text-anchor="start" font-weight="normal" textLength="41.5" lengthAdjust="spacingAndGlyphs">0.66700</text>
<text x="1289" y="305.3" font-family="Liberation Sans, sans-serif" font-size="12" fill="#131722" text-anchor="start" font-weight="normal" textLength="41.5" lengthAdjust="spacingAndGlyphs">0.66650</text>
<text x="1289" y="344.2" font-family="Liberation Sans, sans-serif" font-size="12" fill="#131722" text-anchor="start" font-weight="normal" textLength="41.5" lengthAdjust="spacingAndGlyphs">0.66600</text>
<text x="1289" y="383.2" font-family="Liberation Sans, sans-serif" font-size="12" fill="#131722" text-anchor="start" font-weight="normal" textLength="41.5" lengthAdjust="spacingAndGlyphs">0.66550</text>
<text x="1289" y="422.1" font-family="Liberation Sans, sans-serif" font-size="12" fill="#131722" text-anchor="start" font-weight="normal" textLength="41.5" lengthAdjust="spacingAndGlyphs">0.66500</text>
<text x="1289" y="461.1" font-family="Liberation Sans, sans-serif" font-size="12" fill="#131722" text-anchor="start" font-weight="normal" textLength="41.5" lengthAdjust="spacingAndGlyphs">0.66450</text>
<text x="1289" y="500.0" font-family="Liberation Sans, sans-serif" font-size="12" fill="#131722" text-anchor="start" font-weight="normal" textLength="41.5" lengthAdjust="spacingAndGlyphs">0.66400</text>
<text x="1289" y="538.9" font-family="Liberation Sans, sans-serif" font-size="12" fill="#131722" text-anchor="start" font-weight="normal" textLength="41.5" lengthAdjust="spacingAndGlyphs">0.66350</text>
<text x="1289" y="577.9" font-family="Liberation Sans, sans-serif" font-size="12" fill="#131722" text-anchor="start" font-weight="normal" textLength="41.5" lengthAdjust="spacingAndGlyphs">0.66300</text>
<text x="1289" y="616.8" font-family="Liberation Sans, sans-serif" font-size="12" fill="#131722" text-anchor="start" font-weight="normal" textLength="41.5" lengthAdjust="spacingAndGlyphs">0.66250</text>
<g opacity="0.35">
<text x="1169.5" y="24.3" font-family="Liberation Sans, sans-serif" font-size="12" fill="#131722" text-anchor="start" font-weight="normal" textLength="41.5" lengthAdjust="spacingAndGlyphs">1.09050</text>
</g>
<rect x="1108" y="0" width="53" height="16" fill="#fff"/>
<rect x="1162" y="0" width="53" height="16" fill="#fff"/>
<rect x="1222" y="0" width="53" height="16" fill="#fff"/>
<rect x="1282" y="0" width="53" height="16" fill="#fff"/>
<text x="1117.5" y="11.5" font-family="Liberation Sans, sans-serif" font-size="11.5" fill="#131722" text-anchor="start" font-weight="normal" textLength="20.5" lengthAdjust="spacingAndGlyphs">USD</text>
<text x="1171.5" y="11.5" font-family="Liberation Sans, sans-serif" font-size="11.5" fill="#131722" text-anchor="start" font-weight="normal" textLength="20.5" lengthAdjust="spacingAndGlyphs">USD</text>
<text x="1231.5" y="11.5" font-family="Liberation Sans, sans-serif" font-size="11.5" fill="#131722" text-anchor="start" font-weight="normal" textLength="20.5" lengthAdjust="spacingAndGlyphs">USD</text>
<text x="1291.5" y="11.5" font-family="Liberation Sans, sans-serif" font-size="11.5" fill="#131722" text-anchor="start" font-weight="normal" textLength="20.5" lengthAdjust="spacingAndGlyphs">USD</text>
<rect x="1054" y="310" width="52" height="17" rx="2" fill="#26a69a"/>
<text x="1058.5" y="322.8" font-family="Liberation Sans, sans-serif" font-size="12" fill="#fff" text-anchor="start" font-weight="bold" textLength="43" lengthAdjust="spacingAndGlyphs">GBPUSD</text>
<path d="M1107 310 H1154 a2 2 0 0 1 2 2 V325 a2 2 0 0 1 -2 2 H1107 Z" fill="#26a69a"/>
<text x="1115.5" y="322.8" font-family="Liberation Sans, sans-serif" font-size="12" fill="#fff" text-anchor="start" font-weight="bold" textLength="35" lengthAdjust="spacingAndGlyphs">1.2484</text>
<rect x="1054" y="352" width="52" height="17" rx="2" fill="#9c27b0"/>
<text x="1058.5" y="364.8" font-family="Liberation Sans, sans-serif" font-size="12" fill="#fff" text-anchor="start" font-weight="bold" textLength="43" lengthAdjust="spacingAndGlyphs">AUDUSD</text>
<path d="M1281 352 H1335 a2 2 0 0 1 2 2 V367 a2 2 0 0 1 -2 2 H1281 Z" fill="#9c27b0"/>
<text x="1289" y="364.8" font-family="Liberation Sans, sans-serif" font-size="12" fill="#fff" text-anchor="start" font-weight="bold" textLength="41.5" lengthAdjust="spacingAndGlyphs">0.66574</text>
<rect x="1054" y="437" width="52" height="17" rx="2" fill="#2962ff"/>
<text x="1058.5" y="449.8" font-family="Liberation Sans, sans-serif" font-size="12" fill="#fff" text-anchor="start" font-weight="bold" textLength="43" lengthAdjust="spacingAndGlyphs">EURUSD</text>
<path d="M1161 437 H1215 a2 2 0 0 1 2 2 V452 a2 2 0 0 1 -2 2 H1161 Z" fill="#2962ff"/>
<text x="1169.5" y="449.8" font-family="Liberation Sans, sans-serif" font-size="12" fill="#fff" text-anchor="start" font-weight="bold" textLength="41.5" lengthAdjust="spacingAndGlyphs">1.08362</text>
<rect x="1054" y="471" width="52" height="17" rx="2" fill="#ff9800"/>
<text x="1058.5" y="483.8" font-family="Liberation Sans, sans-serif" font-size="12" fill="#131722" text-anchor="start" font-weight="normal" textLength="43" lengthAdjust="spacingAndGlyphs">CNHUSD</text>
<path d="M1221 471 H1275 a2 2 0 0 1 2 2 V486 a2 2 0 0 1 -2 2 H1221 Z" fill="#ff9800"/>
<text x="1229" y="483.8" font-family="Liberation Sans, sans-serif" font-size="12" fill="#131722" text-anchor="start" font-weight="normal" textLength="41.5" lengthAdjust="spacingAndGlyphs">0.14228</text>
<text x="63.5" y="649.3" font-family="Liberation Sans, sans-serif" font-size="12" fill="#131722" text-anchor="middle" font-weight="normal">06:00</text>
<text x="214.7" y="649.3" font-family="Liberation Sans, sans-serif" font-size="12" fill="#131722" text-anchor="middle" font-weight="normal">12:00</text>
<text x="365.9" y="649.3" font-family="Liberation Sans, sans-serif" font-size="12" fill="#131722" text-anchor="middle" font-weight="normal">18:00</text>
<text x="517.0999999999999" y="649.3" font-family="Liberation Sans, sans-serif" font-size="12" fill="#131722" text-anchor="middle" font-weight="normal">17</text>
<text x="668.3" y="649.3" font-family="Liberation Sans, sans-serif" font-size="12" fill="#131722" text-anchor="middle" font-weight="normal">06:00</text>
<text x="819.5" y="649.3" font-family="Liberation Sans, sans-serif" font-size="12" fill="#131722" text-anchor="middle" font-weight="normal">12:00</text>
<text x="970.6999999999999" y="649.3" font-family="Liberation Sans, sans-serif" font-size="12" fill="#131722" text-anchor="middle" font-weight="normal">18:00</text>
<circle cx="1134" cy="645" r="10" fill="#f0f2f7"/>
<text x="1134" y="648.2" font-family="Liberation Sans, sans-serif" font-size="12" fill="#434651" text-anchor="middle" font-weight="normal">A</text>
<circle cx="1191" cy="645" r="10" fill="#f0f2f7"/>
<text x="1191" y="648.2" font-family="Liberation Sans, sans-serif" font-size="12" fill="#434651" text-anchor="middle" font-weight="normal">B</text>
<circle cx="1251" cy="645" r="10" fill="#f0f2f7"/>
<text x="1251" y="648.2" font-family="Liberation Sans, sans-serif" font-size="12" fill="#434651" text-anchor="middle" font-weight="normal">C</text>
<circle cx="1311" cy="645" r="10" fill="#f0f2f7"/>
<text x="1311" y="648.2" font-family="Liberation Sans, sans-serif" font-size="12" fill="#434651" text-anchor="middle" font-weight="normal">D</text>
<text x="15.2" y="12.8" font-family="Liberation Sans, sans-serif" font-size="12" fill="#131722" text-anchor="start" font-weight="normal" textLength="184.5" lengthAdjust="spacingAndGlyphs">British Pound / U.S. Dollar, 15, ICE</text>
<text x="208" y="12.8" font-family="Liberation Sans, sans-serif" font-size="12" fill="#131722" text-anchor="start" font-weight="normal" textLength="8" lengthAdjust="spacingAndGlyphs">O</text>
<text x="216.6" y="12.8" font-family="Liberation Sans, sans-serif" font-size="12" fill="#26a69a" text-anchor="start" font-weight="normal" textLength="34.6" lengthAdjust="spacingAndGlyphs">1.2480</text>
<text x="259.3" y="12.8" font-family="Liberation Sans, sans-serif" font-size="12" fill="#131722" text-anchor="start" font-weight="normal" textLength="7.5" lengthAdjust="spacingAndGlyphs">H</text>
<text x="266.8" y="12.8" font-family="Liberation Sans, sans-serif" font-size="12" fill="#26a69a" text-anchor="start" font-weight="normal" textLength="35" lengthAdjust="spacingAndGlyphs">1.2484</text>
<text x="310" y="12.8" font-family="Liberation Sans, sans-serif" font-size="12" fill="#131722" text-anchor="start" font-weight="normal" textLength="5.5" lengthAdjust="spacingAndGlyphs">L</text>
<text x="315.8" y="12.8" font-family="Liberation Sans, sans-serif" font-size="12" fill="#26a69a" text-anchor="start" font-weight="normal" textLength="35" lengthAdjust="spacingAndGlyphs">1.2479</text>
<text x="360" y="12.8" font-family="Liberation Sans, sans-serif" font-size="12" fill="#131722" text-anchor="start" font-weight="normal" textLength="7.5" lengthAdjust="spacingAndGlyphs">C</text>
<text x="367.2" y="12.8" font-family="Liberation Sans, sans-serif" font-size="12" fill="#26a69a" text-anchor="start" font-weight="normal" textLength="35" lengthAdjust="spacingAndGlyphs">1.2484</text>
<text x="409.6" y="12.8" font-family="Liberation Sans, sans-serif" font-size="12" fill="#26a69a" text-anchor="start" font-weight="normal" textLength="90.4" lengthAdjust="spacingAndGlyphs">+0.0004 (+0.03%)</text>
<text x="15.2" y="29.9" font-family="Liberation Sans, sans-serif" font-size="12" fill="#131722" text-anchor="start" font-weight="normal" textLength="66.5" lengthAdjust="spacingAndGlyphs">EURUSD, ICE</text>
<text x="90" y="29.9" font-family="Liberation Sans, sans-serif" font-size="12" fill="#2962ff" text-anchor="start" font-weight="normal" textLength="41" lengthAdjust="spacingAndGlyphs">1.08362</text>
<text x="139.3" y="29.9" font-family="Liberation Sans, sans-serif" font-size="12" fill="#2962ff" text-anchor="start" font-weight="normal" textLength="96.5" lengthAdjust="spacingAndGlyphs">+0.00029 (+0.03%)</text>
<text x="15.2" y="46.9" font-family="Liberation Sans, sans-serif" font-size="12" fill="#131722" text-anchor="start" font-weight="normal" textLength="67.5" lengthAdjust="spacingAndGlyphs">CNHUSD, ICE</text>
<text x="91.2" y="46.9" font-family="Liberation Sans, sans-serif" font-size="12" fill="#ff9800" text-anchor="start" font-weight="normal" textLength="41" lengthAdjust="spacingAndGlyphs">0.14228</text>
<text x="140.6" y="46.9" font-family="Liberation Sans, sans-serif" font-size="12" fill="#ff9800" text-anchor="start" font-weight="normal" textLength="96.5" lengthAdjust="spacingAndGlyphs">+0.00001 (+0.01%)</text>
<text x="15.2" y="64" font-family="Liberation Sans, sans-serif" font-size="12" fill="#131722" text-anchor="start" font-weight="normal" textLength="66.8" lengthAdjust="spacingAndGlyphs">AUDUSD, ICE</text>
<text x="90.5" y="64" font-family="Liberation Sans, sans-serif" font-size="12" fill="#9c27b0" text-anchor="start" font-weight="normal" textLength="41.3" lengthAdjust="spacingAndGlyphs">0.66574</text>
<text x="140.2" y="64" font-family="Liberation Sans, sans-serif" font-size="12" fill="#9c27b0" text-anchor="start" font-weight="normal" textLength="96.5" lengthAdjust="spacingAndGlyphs">+0.00038 (+0.06%)</text>
<circle cx="939.5" cy="618.4" r="9.8" fill="#fff" stroke="#9c27b0" stroke-width="1.3"/>
<path d="M941.9 613.0 L935.2 618.9 L939.0 618.9 L936.6 624.0 L943.8 617.9 L940.0 617.9 Z" fill="#9c27b0"/>
<circle cx="946.3" cy="611.8" r="3.6" fill="#fff"/><circle cx="946.3" cy="611.8" r="2.5" fill="#f23645"/>
<g fill="#1e222d"><path d="M7 671.4 H15.6 V680.4 H11.6 V675.4 H7 Z"/><circle cx="18.2" cy="673.0" r="2"/><path d="M22.2 671.4 H26.6 L22.6 680.4 H18.2 Z"/></g>
<text x="30.2" y="681" font-family="Liberation Sans, sans-serif" font-size="13" fill="#2a2e39" text-anchor="start" font-weight="normal" textLength="70" lengthAdjust="spacingAndGlyphs">TradingView</text>
</svg></div></body></html>
